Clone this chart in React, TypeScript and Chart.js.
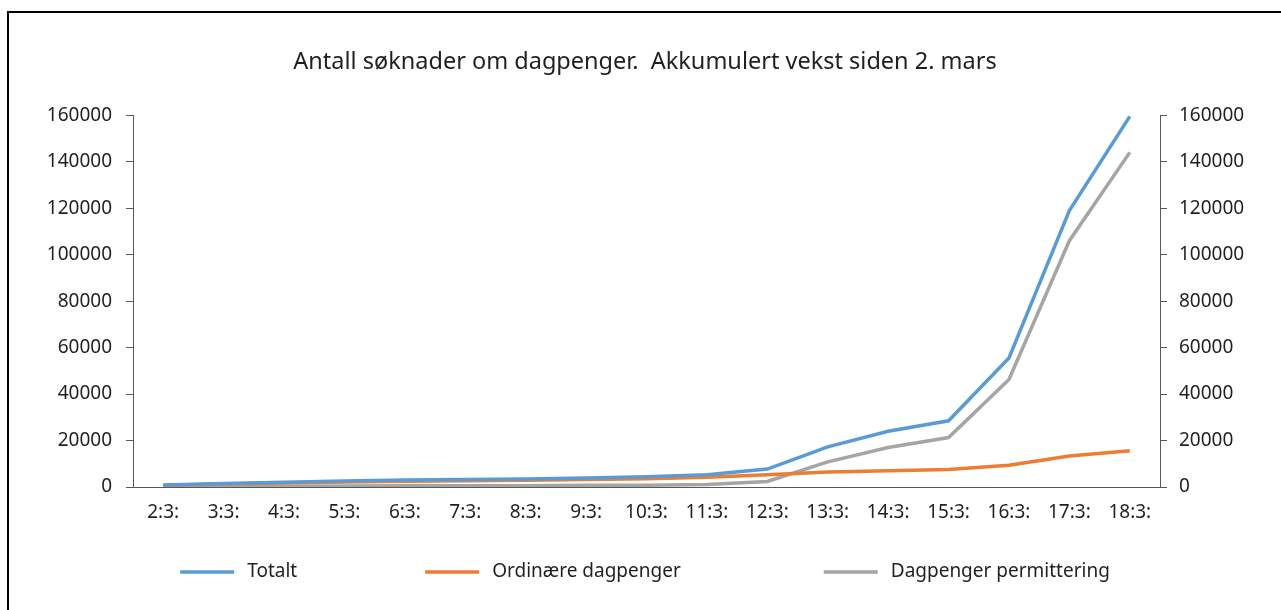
import React, { useEffect, useRef } from "react";
import { Chart, registerables } from "chart.js";

Chart.register(...registerables);

const categories = ["2:3:", "3:3:", "4:3:", "5:3:", "6:3:", "7:3:", "8:3:", "9:3:", "10:3:", "11:3:", "12:3:", "13:3:", "14:3:", "15:3:", "16:3:", "17:3:", "18:3:"];
const totalt = [900, 1500, 2000, 2600, 3000, 3200, 3400, 3900, 4400, 5300, 7700, 17300, 24000, 28500, 55500, 119000, 159500];
const ordinaere = [800, 1300, 1700, 2200, 2500, 2700, 2900, 3200, 3600, 4200, 5300, 6500, 7000, 7500, 9400, 13300, 15600];
const permittering = [100, 200, 300, 400, 500, 500, 500, 700, 800, 1100, 2400, 10800, 17000, 21300, 46300, 106000, 144000];
const seriesNames = ["Totalt", "Ordinære dagpenger", "Dagpenger permittering"];
const seriesColors = ["#5B9BD5", "#ED7D31", "#A5A5A5"];
const titleText = "Antall søknader om dagpenger.  Akkumulert vekst siden 2. mars";

const FONT = "'Noto Sans', sans-serif";
const TEXT = "#231f20";
const AXIS = "#595959";

const customLegend = {
  id: "customLegend",
  afterDraw(chart: any) {
    const ctx = chart.ctx;
    const datasets = chart.data.datasets;
    const fontSize = 19;
    ctx.save();
    ctx.font = `${fontSize}px ${FONT}`;
    const lineW = 54;
    const gapText = 13;
    const gaps = [128, 143];
    const widths = datasets.map((ds: any) => lineW + gapText + ctx.measureText(ds.label).width);
    const total = widths.reduce((a: number, b: number) => a + b, 0) + gaps[0] + gaps[1];
    let x = chart.width / 2 - total / 2;
    const y = chart.height - 38;
    ctx.textBaseline = "middle";
    ctx.textAlign = "left";
    datasets.forEach((ds: any, i: number) => {
      ctx.strokeStyle = ds.borderColor;
      ctx.lineWidth = 3.5;
      ctx.beginPath();
      ctx.moveTo(x, y);
      ctx.lineTo(x + lineW, y);
      ctx.stroke();
      ctx.fillStyle = TEXT;
      ctx.fillText(ds.label, x + lineW + gapText, y);
      x += widths[i] + (gaps[i] || 0);
    });
    ctx.restore();
  },
};

export default function App() {
  const ref = useRef<HTMLCanvasElement | null>(null);
  useEffect(() => {
    if (!ref.current) return;
    const data = [totalt, ordinaere, permittering];
    const chart = new Chart(ref.current, {
      type: "line",
      data: {
        labels: categories,
        datasets: data.map((d, i) => ({
          label: seriesNames[i],
          data: d,
          borderColor: seriesColors[i],
          backgroundColor: seriesColors[i],
          borderWidth: 3.5,
          pointRadius: 0,
          tension: 0,
          yAxisID: "y",
        })),
      },
      plugins: [customLegend],
      options: {
        animation: false,
        responsive: false,
        maintainAspectRatio: false,
        layout: { padding: { top: 0, bottom: 75, left: 0, right: 0 } },
        plugins: {
          title: {
            display: true,
            text: titleText,
            color: TEXT,
            font: { family: FONT, size: 23.5, weight: "normal" },
            padding: { top: 35, bottom: 39 },
          },
          legend: { display: false },
          tooltip: { enabled: false },
        },
        scales: {
          x: {
            offset: true,
            grid: { display: false, drawTicks: false },
            border: { display: true, color: AXIS, width: 1 },
            ticks: { color: TEXT, font: { family: FONT, size: 19 }, padding: 14, maxRotation: 0, autoSkip: false },
            afterFit: (s: any) => { s.height = 48; },
          },
          y: {
            position: "left",
            min: 0,
            max: 160000,
            grid: { drawOnChartArea: false, drawTicks: true, tickLength: 7, color: AXIS },
            border: { display: true, color: AXIS, width: 1 },
            ticks: { stepSize: 20000, color: TEXT, font: { family: FONT, size: 19 }, padding: 14, callback: (v: any) => String(v) },
            afterFit: (s: any) => { s.width = 124; },
          },
          y1: {
            position: "right",
            min: 0,
            max: 160000,
            grid: { drawOnChartArea: false, drawTicks: true, tickLength: 7, color: AXIS },
            border: { display: true, color: AXIS, width: 1 },
            ticks: { stepSize: 20000, color: TEXT, font: { family: FONT, size: 19 }, padding: 12, callback: (v: any) => String(v) },
            afterFit: (s: any) => { s.width = 121; },
          },
        },
      },
    });
    return () => chart.destroy();
  }, []);
  return (
    <div
      style={{
        position: "fixed",
        left: 7,
        top: 11,
        right: 0,
        bottom: 0,
        borderLeft: "2px solid #000",
        borderTop: "2px solid #000",
        background: "#fff",
      }}
    >
      <canvas ref={ref} width={1272} height={597} style={{ display: "block" }} />
    </div>
  );
}
